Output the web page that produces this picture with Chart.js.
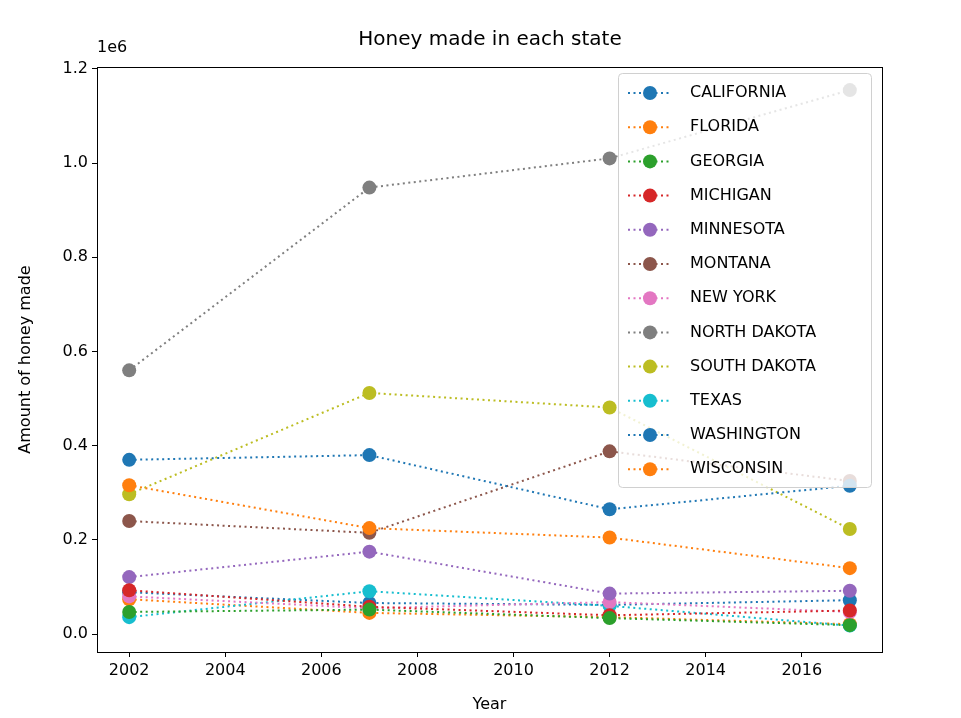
<!DOCTYPE html>
<html><head><meta charset="utf-8">
<script src="https://cdn.jsdelivr.net/npm/chart.js@4"></script>
<style>body{margin:0;background:#fff}</style>
</head><body>
<canvas id="c" width="961" height="718"></canvas>
<script>
const years = [2002, 2007, 2012, 2017];
const states = ['CALIFORNIA','FLORIDA','GEORGIA','MICHIGAN','MINNESOTA','MONTANA','NEW YORK','NORTH DAKOTA','SOUTH DAKOTA','TEXAS','WASHINGTON','WISCONSIN'];
const colors = ['#1f77b4','#ff7f0e','#2ca02c','#d62728','#9467bd','#8c564b','#e377c2','#7f7f7f','#bcbd22','#17becf','#1f77b4','#ff7f0e'];
const california = [370000, 380000, 265000, 315000];
const florida = [316000, 225000, 205000, 140000];
const georgia = [47000, 52000, 34000, 19000];
const michigan = [93000, 58000, 40000, 50000];
const minnesota = [121000, 175000, 86000, 92000];
const montana = [240000, 215000, 388000, 325000];
const newYork = [80000, 55000, 68000, 47000];
const northDakota = [560000, 948000, 1010000, 1155000];
const southDakota = [297000, 512000, 481000, 223000];
const texas = [36000, 91000, 60000, 18000];
const washington = [89000, 66000, 62000, 72000];
const wisconsin = [74000, 45000, 36000, 21000];
const series = [california, florida, georgia, michigan, minnesota, montana, newYork, northDakota, southDakota, texas, washington, wisconsin];

const font = {family: 'DejaVu Sans', size: 16};
const datasets = series.map((vals, i) => ({
  label: states[i],
  data: vals.map((v, j) => ({x: years[j], y: v})),
  borderColor: colors[i], backgroundColor: colors[i],
  borderWidth: 2, borderDash: [2, 3.5],
  pointRadius: 7, pointHoverRadius: 7, pointBorderWidth: 0
}));

const extras = {
  id: 'extras',
  afterDraw(chart) {
    const ctx = chart.ctx;
    const a = chart.chartArea;
    ctx.save();
    ctx.strokeStyle = '#000'; ctx.lineWidth = 1;
    ctx.strokeRect(a.left + 0.5, a.top + 0.5, a.right - a.left, a.bottom - a.top);
    ctx.fillStyle = '#000';
    ctx.font = '20px DejaVu Sans';
    ctx.textAlign = 'center'; ctx.textBaseline = 'middle';
    ctx.fillText('Honey made in each state', 490, 40);
    ctx.font = '16px DejaVu Sans';
    ctx.textAlign = 'left';
    ctx.fillText('1e6', 97, 48);
    // legend
    const lx = 618, ly = 73, lw = 253, lh = 414;
    ctx.fillStyle = 'rgba(255,255,255,0.8)';
    ctx.strokeStyle = '#d0d0d0'; ctx.lineWidth = 1;
    ctx.beginPath(); ctx.roundRect(lx + 0.5, ly + 0.5, lw, lh, 4); ctx.fill(); ctx.stroke();
    states.forEach((s, i) => {
      const y = 93 + i * 34.2;
      ctx.strokeStyle = colors[i]; ctx.lineWidth = 2; ctx.setLineDash([2, 3.5]);
      ctx.beginPath(); ctx.moveTo(628, y); ctx.lineTo(670, y); ctx.stroke();
      ctx.setLineDash([]);
      ctx.fillStyle = colors[i];
      ctx.beginPath(); ctx.arc(650, y, 7, 0, Math.PI * 2); ctx.fill();
      ctx.fillStyle = '#000';
      ctx.fillText(s, 690, y);
    });
    ctx.restore();
  }
};

const axisGrid = {display: true, drawOnChartArea: false, color: '#000', tickLength: 5, tickColor: '#000'};
new Chart(document.getElementById('c'), {
  type: 'line',
  data: {datasets},
  options: {
    responsive: false, animation: false,
    layout: {padding: {left: 12, right: 79, top: 67, bottom: 0}},
    plugins: {legend: {display: false}, tooltip: {enabled: false}},
    scales: {
      x: {
        type: 'linear', min: 2001.33, max: 2017.67,
        afterBuildTicks: s => { s.ticks = [2002,2004,2006,2008,2010,2012,2014,2016].map(v => ({value: v})); },
        afterFit: s => { s.height = 66; },
        grid: axisGrid, border: {color: '#000', width: 1},
        ticks: {color: '#000', font, padding: 4, maxRotation: 0, callback: v => String(v)},
        title: {display: true, text: 'Year', color: '#000', font, padding: {top: 8}}
      },
      y: {
        min: -38000, max: 1204000,
        afterBuildTicks: s => { s.ticks = [0,200000,400000,600000,800000,1000000,1200000].map(v => ({value: v})); },
        afterFit: s => { s.width = 85; },
        grid: axisGrid, border: {color: '#000', width: 1},
        ticks: {color: '#000', font, padding: 4, callback: v => (v / 1e6).toFixed(1)},
        title: {display: true, text: 'Amount of honey made', color: '#000', font, padding: {bottom: 2}}
      }
    }
  },
  plugins: [extras]
});
</script>
</body></html>
